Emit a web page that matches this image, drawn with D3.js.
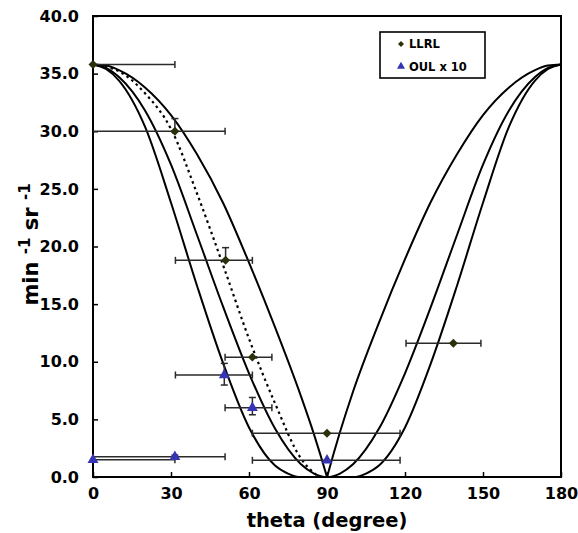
<!DOCTYPE html>
<html>
<head>
<meta charset="utf-8">
<script src="https://cdn.jsdelivr.net/npm/d3@7"></script>
<style>
  body { margin: 0; background: #fff; }
  text { font-family: "DejaVu Sans", Verdana, sans-serif; font-weight: bold; }
</style>
</head>
<body>
<svg id="canvas"></svg>
<script>
const width = 578;
const height = 533;
const margin = { top: 16, right: 17, bottom: 56, left: 93 };

// model curves (theta in degrees, rate)
const curveAThetaLeft = [0, 5, 10, 20, 30, 40, 50, 60, 70, 80, 85, 87.5, 90];
const curveALeft = [35.8, 35.7, 35.3, 33.8, 31.4, 28.0, 23.8, 18.6, 13.0, 7.0, 3.7, 1.9, 0];
const curveAThetaRight = [90, 92.5, 95, 100, 110, 120, 130, 140, 150, 160, 170, 175, 180];
const curveARight = [0, 2.0, 3.9, 7.4, 13.4, 18.9, 23.9, 28.0, 31.4, 33.8, 35.3, 35.7, 35.8];

const curveBTheta = [0, 5, 10, 20, 30, 40, 50, 60, 70, 80, 85, 90, 95, 100, 110, 120, 130, 140, 150, 160, 170, 175, 180];
const curveB = [35.8, 35.5, 34.7, 31.8, 27.1, 21.0, 14.8, 9.0, 4.2, 1.1, 0.3, 0, 0.3, 1.1, 4.2, 9.0, 14.8, 21.0, 27.1, 31.8, 34.7, 35.5, 35.8];

const curveCTheta = [0, 5, 10, 20, 30, 40, 50, 60, 70, 75, 79, 90, 101, 105, 110, 120, 130, 140, 150, 160, 170, 175, 180];
const curveC = [35.8, 35.4, 34.4, 30.4, 23.8, 16.6, 9.9, 4.3, 1.0, 0.3, 0, 0, 0, 0.3, 1.0, 4.3, 9.9, 16.6, 23.8, 30.4, 34.4, 35.4, 35.8];

const curveDTheta = [0, 5, 10, 20, 30, 40, 50, 60, 70, 80, 85, 87];
const curveD = [35.8, 35.6, 35.2, 33.3, 30.2, 24.6, 18.4, 12.0, 6.4, 1.6, 0.35, 0];

// LLRL measurements
const llrlTheta = [0, 31.5, 51, 61.3, 90, 138.6];
const llrlRate = [35.8, 30.0, 18.8, 10.4, 3.8, 11.6];
const llrlThetaLo = [0, 0, 31.7, 50.8, 61.3, 120.4];
const llrlThetaHi = [31.5, 50.8, 61.3, 68.8, 118.1, 149.2];
const llrlRateHi = [null, 31.1, 19.9, null, null, null];

// OUL x 10 measurements
const oulTheta = [0, 31.5, 50.5, 61.3, 90];
const oulRate = [1.5, 1.75, 8.85, 6.0, 1.45];
const oulThetaLo = [0, 0, 31.7, 50.8, 61.3];
const oulThetaHi = [31.5, 50.8, 61.3, 68.8, 118.1];
const oulRateLo = [null, 1.6, 7.98, 5.4, null];
const oulRateHi = [null, 1.9, 9.86, 6.9, null];

const xTicks = [0, 30, 60, 90, 120, 150, 180];
const yTicks = [0, 5, 10, 15, 20, 25, 30, 35, 40];

const llrlColor = "#29300a";
const oulColor = "#3434b4";

const svg = d3.select("#canvas").attr("width", width).attr("height", height);

const xScale = d3
  .scaleLinear()
  .domain([0, 180])
  .range([margin.left, width - margin.right]);

const yScale = d3
  .scaleLinear()
  .domain([0, 40])
  .range([height - margin.bottom, margin.top]);

// axes, ticks pointing inward
const xAxis = svg
  .append("g")
  .attr("transform", `translate(0, ${height - margin.bottom})`)
  .call(
    d3.axisBottom(xScale).tickValues(xTicks).tickSizeInner(-5).tickSizeOuter(0).tickPadding(11)
  );

const yAxis = svg
  .append("g")
  .attr("transform", `translate(${margin.left}, 0)`)
  .call(
    d3
      .axisLeft(yScale)
      .tickValues(yTicks)
      .tickFormat(d3.format(".1f"))
      .tickSizeInner(-5)
      .tickSizeOuter(0)
      .tickPadding(14)
  );

[xAxis, yAxis].forEach((g) => {
  g.select(".domain").remove();
  g.selectAll("line").attr("stroke", "#000").attr("stroke-width", 1.5);
  g.selectAll("text")
    .attr("fill", "#000")
    .style("font-size", "16px")
    .style("font-family", '"DejaVu Sans", Verdana, sans-serif');
});

// plot frame
svg
  .append("rect")
  .attr("x", xScale(0))
  .attr("y", yScale(40))
  .attr("width", xScale(180) - xScale(0))
  .attr("height", yScale(0) - yScale(40))
  .attr("fill", "none")
  .attr("stroke", "#000")
  .attr("stroke-width", 2);

// curves
const line = d3
  .line()
  .x((d) => xScale(d[0]))
  .y((d) => yScale(d[1]))
  .curve(d3.curveMonotoneX);

const solidCurves = [
  d3.zip(curveAThetaLeft, curveALeft),
  d3.zip(curveAThetaRight, curveARight),
  d3.zip(curveBTheta, curveB),
  d3.zip(curveCTheta, curveC),
];

svg
  .selectAll(".curve")
  .data(solidCurves)
  .enter()
  .append("path")
  .attr("class", "curve")
  .attr("d", line)
  .attr("fill", "none")
  .attr("stroke", "#000")
  .attr("stroke-width", 2);

svg
  .append("path")
  .datum(d3.zip(curveDTheta, curveD))
  .attr("d", line)
  .attr("fill", "none")
  .attr("stroke", "#000")
  .attr("stroke-width", 2.2)
  .attr("stroke-dasharray", "2.5,3.5");

// error bars
const barColor = "#2a2a2a";
const cap = 3.5;

function drawErrorBars(theta, rate, tLo, tHi, rLo, rHi) {
  const g = svg.append("g").attr("stroke", barColor).attr("stroke-width", 1.5);
  theta.forEach((t, i) => {
    const yv = yScale(rate[i]);
    g.append("line")
      .attr("x1", xScale(tLo[i]))
      .attr("x2", xScale(tHi[i]))
      .attr("y1", yv)
      .attr("y2", yv);
    [tLo[i], tHi[i]].forEach((e) => {
      if (e > 0) {
        g.append("line")
          .attr("x1", xScale(e))
          .attr("x2", xScale(e))
          .attr("y1", yv - cap)
          .attr("y2", yv + cap);
      }
    });
    const top = rHi[i] == null ? rate[i] : rHi[i];
    const bottom = rLo == null || rLo[i] == null ? rate[i] : rLo[i];
    if (top !== rate[i] || bottom !== rate[i]) {
      g.append("line")
        .attr("x1", xScale(t))
        .attr("x2", xScale(t))
        .attr("y1", yScale(top))
        .attr("y2", yScale(bottom));
      [top, bottom].forEach((e) => {
        if (e !== rate[i]) {
          g.append("line")
            .attr("x1", xScale(t) - cap)
            .attr("x2", xScale(t) + cap)
            .attr("y1", yScale(e))
            .attr("y2", yScale(e));
        }
      });
    }
  });
}

drawErrorBars(llrlTheta, llrlRate, llrlThetaLo, llrlThetaHi, null, llrlRateHi);
drawErrorBars(oulTheta, oulRate, oulThetaLo, oulThetaHi, oulRateLo, oulRateHi);

// markers
const diamond = d3.symbol(d3.symbolSquare, 40);
const triangle = d3.symbol(d3.symbolTriangle, 52);

svg
  .selectAll(".llrl")
  .data(d3.zip(llrlTheta, llrlRate))
  .enter()
  .append("path")
  .attr("class", "llrl")
  .attr("d", diamond)
  .attr("transform", (d) => `translate(${xScale(d[0])}, ${yScale(d[1])}) rotate(45)`)
  .attr("fill", llrlColor);

svg
  .selectAll(".oul")
  .data(d3.zip(oulTheta, oulRate))
  .enter()
  .append("path")
  .attr("class", "oul")
  .attr("d", triangle)
  .attr("transform", (d) => `translate(${xScale(d[0])}, ${yScale(d[1])})`)
  .attr("fill", oulColor);

// axis titles
svg
  .append("text")
  .attr("x", (xScale(0) + xScale(180)) / 2)
  .attr("y", 527)
  .attr("text-anchor", "middle")
  .style("font-size", "19.5px")
  .text("theta (degree)");

const yTitle = svg
  .append("text")
  .attr("transform", `translate(38, ${(yScale(0) + yScale(40)) / 2 - 2}) rotate(-90)`)
  .attr("text-anchor", "middle")
  .style("font-size", "21px");
yTitle.append("tspan").text("min ");
yTitle.append("tspan").attr("dy", -8).style("font-size", "15px").text("-1");
yTitle.append("tspan").attr("dy", 8).text(" sr ");
yTitle.append("tspan").attr("dy", -8).style("font-size", "15px").text("-1");

// legend
const legend = svg.append("g").attr("transform", "translate(380, 32)");

legend
  .append("rect")
  .attr("width", 105)
  .attr("height", 46)
  .attr("fill", "#fff")
  .attr("stroke", "#000")
  .attr("stroke-width", 1.6);

const legendItems = [
  { label: "LLRL", symbol: d3.symbol(d3.symbolSquare, 18), color: llrlColor, rot: 45 },
  { label: "OUL x 10", symbol: d3.symbol(d3.symbolTriangle, 28), color: oulColor, rot: 0 },
];

legendItems.forEach((item, i) => {
  const yy = 12 + i * 22.5;
  legend
    .append("path")
    .attr("d", item.symbol)
    .attr("transform", `translate(21, ${yy}) rotate(${item.rot})`)
    .attr("fill", item.color);
  legend
    .append("text")
    .attr("x", 29)
    .attr("y", yy + 4)
    .style("font-size", "11.5px")
    .text(item.label);
});
</script>
</body>
</html>
